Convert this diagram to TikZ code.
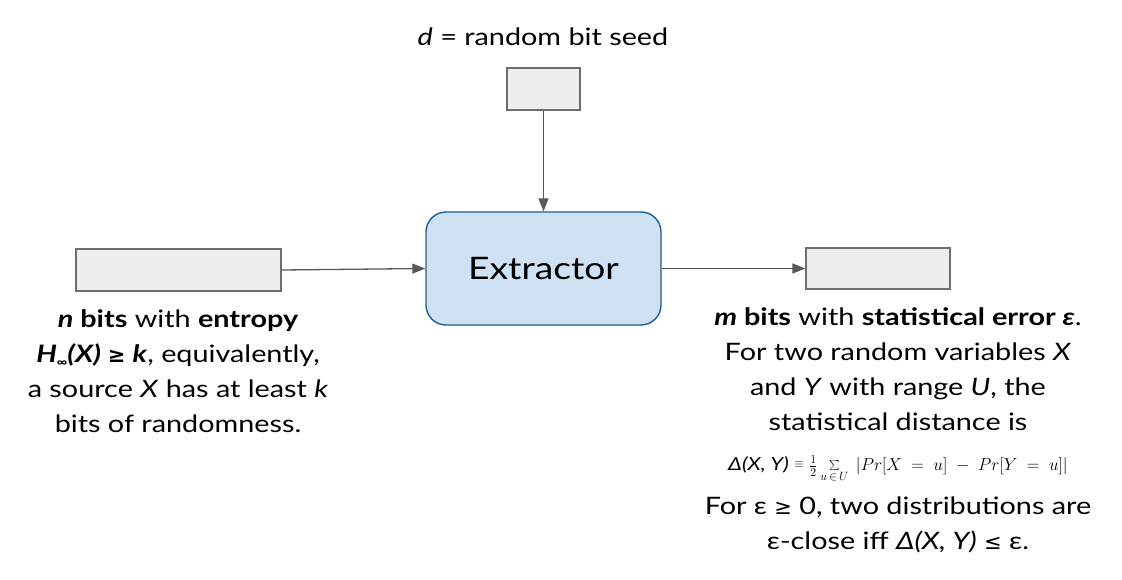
\documentclass[tikz,border=0pt]{standalone}
\usepackage{fontspec}
\setmainfont{Lato}[FakeStretch=1.2]
\newfontfamily\symfont{DejaVu Sans}
\usetikzlibrary{arrows.meta}
\definecolor{boxfill}{HTML}{EEEEEE}
\definecolor{boxline}{HTML}{6E6E6E}
\definecolor{extfill}{HTML}{CFE2F3}
\definecolor{extline}{HTML}{1F5F96}
\definecolor{arrowcol}{HTML}{595959}
\tikzset{
  graybox/.style={draw=boxline, fill=boxfill, line width=1.4pt, inner sep=0pt},
  extbox/.style={draw=extline, fill=extfill, line width=1.4pt, rounded corners=20pt, inner sep=0pt,
    font=\fontsize{31}{40}\selectfont},
  arr/.style={draw=arrowcol, line width=1.3pt, -{Triangle[length=13pt,width=10pt]}},
  lbl/.style={align=center, inner sep=0pt, font=\fontsize{24}{35}\selectfont}
}
\begin{document}
\begin{tikzpicture}[x=1pt,y=-1pt]
\useasboundingbox (0,0) rectangle (1122,580);
\node[graybox, minimum width=205pt, minimum height=42pt] (src) at (178.5,270) {};
\node[graybox, minimum width=73pt, minimum height=42pt] (seed) at (543.5,89) {};
\node[graybox, minimum width=144pt, minimum height=41pt] (out) at (878,268.5) {};
\node[extbox, minimum width=235pt, minimum height=113pt] (ext) at (543.5,268.5) {Extractor};
\draw[arr] (src.east) -- (ext.west);
\draw[arr] (seed.south) -- (ext.north);
\draw[arr] (ext.east) -- (out.west);
\node[lbl] (seedlbl) at (543,37) {\textit{d} = random bit seed};
\node[lbl] (srclbl) at (178,371) {\textbf{\textit{n} bits} with \textbf{entropy}\\
\textbf{\textit{H}\raisebox{-0.35ex}{\fontsize{12}{12}\selectfont ∞}\textit{(X)} {\symfont\fontsize{21}{21}\selectfont ≥} \textit{k}}, equivalently,\\
a source \textit{X} has at least \textit{k}\\
bits of randomness.};
\node[lbl] (outlbl) at (898,430) {\textbf{\textit{m} bits} with \textbf{statistical error \textit{ε}}.\\
For two random variables \textit{X}\\
and \textit{Y} with range \textit{U}, the\\
statistical distance is\\[5pt]
\raisebox{0pt}[14pt][4pt]{\fontsize{18}{20}\selectfont\textit{Δ(X, Y)} \raisebox{0.3ex}{$\scriptstyle\equiv$} $\frac{1}{2}\mathop{\textstyle\sum}\limits_{\raisebox{-4pt}{$\scriptstyle u\,\in\,U$}}\;|Pr[X\;=\;u]\;-\;Pr[Y\;=\;u]|$}\\[9pt]
For ε {\symfont\fontsize{21}{21}\selectfont ≥} 0, two distributions are\\
ε-close iff \textit{Δ(X, Y)} {\symfont\fontsize{21}{21}\selectfont ≤} ε.};
\end{tikzpicture}
\end{document}
